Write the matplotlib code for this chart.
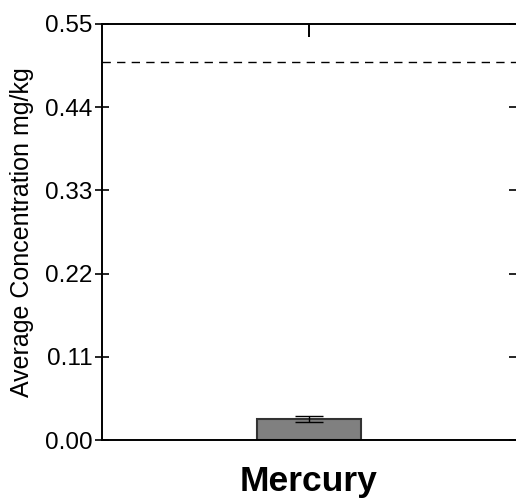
import numpy as np
import matplotlib.pyplot as plt

plt.rcParams['font.family'] = ['Liberation Sans', 'DejaVu Sans']

# data
categories = ['Mercury']
means = [0.0278]
errors = [0.0035]
threshold = 0.50
yticks = [0.00, 0.11, 0.22, 0.33, 0.44, 0.55]

fig = plt.figure(figsize=(5.16, 4.98), dpi=100)
ax = fig.add_axes([102 / 516, 1 - 440 / 498, 1 - 102 / 516, (440 - 24) / 498])

x = np.arange(len(categories))
ax.bar(x, means, width=0.5, color='#808080', edgecolor='#333333', linewidth=1.5, zorder=2)
ax.errorbar(x, means, yerr=errors, fmt='none', ecolor='black', elinewidth=1.0,
            capsize=10, capthick=1.0, zorder=3)

ax.axhline(threshold, color='black', linestyle=(0, (6, 4.5)), linewidth=1.0, zorder=1)

ax.set_xlim(-1, 1)
ax.set_ylim(0, 0.55)
ax.set_yticks(yticks)
ax.set_yticklabels(['%.2f' % v for v in yticks], fontsize=17.5)
ax.set_xticks(x)
ax.set_xticklabels(categories, fontsize=25.5, fontweight='bold')
ax.set_ylabel('Average Concentration mg/kg', fontsize=18, labelpad=8)

for side in ['left', 'bottom', 'top']:
    ax.spines[side].set_linewidth(1.4)
ax.spines['right'].set_visible(False)

ax.tick_params(axis='y', which='both', left=True, right=True, direction='inout',
               length=10, width=1.2, pad=2)
ax.tick_params(axis='y', right=True, labelright=False)
ax.tick_params(axis='x', bottom=True, top=True, direction='in', length=9.5, width=1.4, pad=18)

plt.savefig('out.png', dpi=100)
